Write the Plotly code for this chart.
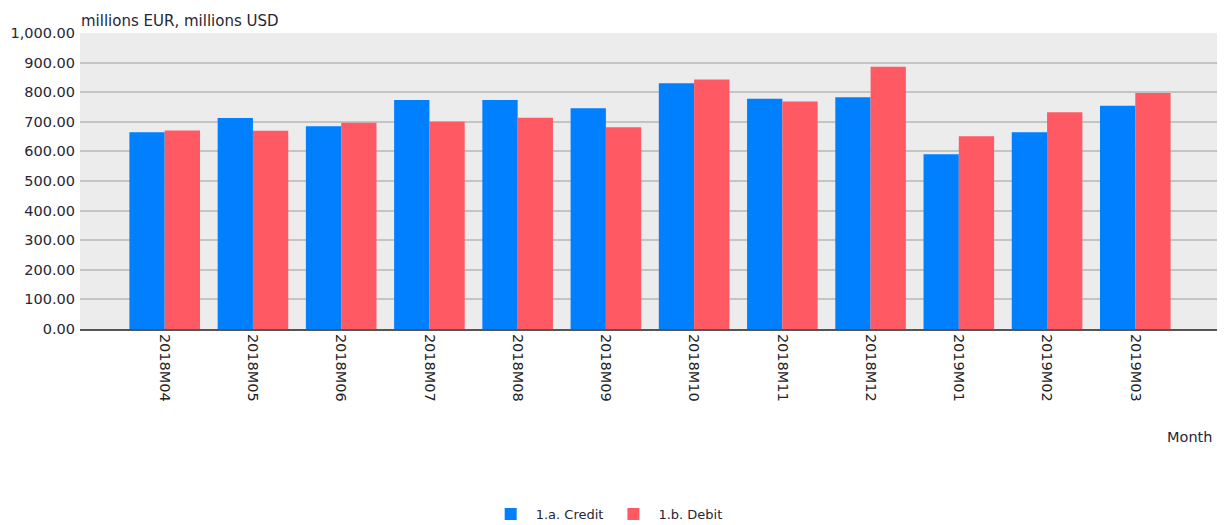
import plotly.graph_objects as go

months = ["2018M04", "2018M05", "2018M06", "2018M07", "2018M08", "2018M09",
          "2018M10", "2018M11", "2018M12", "2019M01", "2019M02", "2019M03"]
credit = [665, 713, 685, 774, 774, 746, 830, 778, 783, 590, 665, 754]
debit = [671, 670, 697, 700, 714, 682, 843, 769, 886, 651, 732, 797]
y_ticks = [0, 100, 200, 300, 400, 500, 600, 700, 800, 900, 1000]

font = "DejaVu Sans"
txt = "#262636"

fig = go.Figure()
fig.add_trace(go.Bar(name="1.a. Credit", x=months, y=credit,
                     marker=dict(color="#0080FF", line=dict(width=0))))
fig.add_trace(go.Bar(name="1.b. Debit", x=months, y=debit,
                     marker=dict(color="#FF5A64", line=dict(width=0))))

fig.update_layout(
    width=1217, height=517,
    margin=dict(l=72, r=5, t=25, b=196, autoexpand=False),
    paper_bgcolor="white",
    plot_bgcolor="#ECECEC",
    barmode="group",
    bargap=0.2,
    bargroupgap=0,
    font=dict(family=font, size=14, color=txt),
    showlegend=True,
    legend=dict(orientation="h", x=0.462, xanchor="center", y=-0.625, yanchor="middle",
                font=dict(size=13, color=txt), itemwidth=40,
                traceorder="normal"),
    xaxis=dict(
        type="category",
        range=[-0.96, 11.96],
        tickangle=90,
        showgrid=False,
        showline=True, linecolor="#555555", linewidth=2,
        ticks="",
        automargin=False,
        tickfont=dict(size=14.5, color="#222222"),
    ),
    yaxis=dict(
        range=[0, 1000],
        tickvals=y_ticks,
        tickformat=",.2f",
        showgrid=True, gridcolor="#C4C4C4", gridwidth=1.5,
        zeroline=False,
        ticks="",
        ticklabelstandoff=4,
        automargin=False,
        tickfont=dict(size=14.5, color=txt),
    ),
    annotations=[
        dict(text="millions EUR, millions USD", xref="paper", yref="paper",
             x=0, y=1, xanchor="left", yanchor="bottom", yshift=1, xshift=-1,
             showarrow=False, font=dict(size=15, color=txt)),
        dict(text="Month", xref="paper", yref="paper",
             x=0.995, y=-0.365, xanchor="right", yanchor="middle",
             showarrow=False, font=dict(size=14.5, color=txt)),
    ],
)

fig.write_html("out.html")
